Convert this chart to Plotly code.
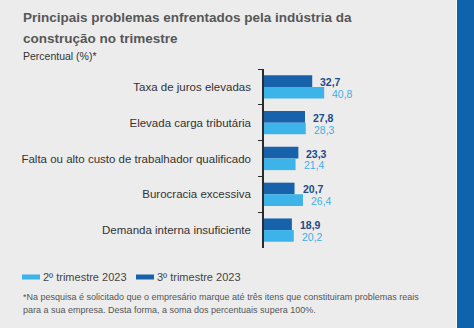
import plotly.graph_objects as go

# Problems faced by the construction industry (percent of respondents)
categorias = [
    "Taxa de juros elevadas",
    "Elevada carga tributária",
    "Falta ou alto custo de trabalhador qualificado",
    "Burocracia excessiva",
    "Demanda interna insuficiente",
]
tri2_2023 = [40.8, 28.3, 21.4, 26.4, 20.2]
tri3_2023 = [32.7, 27.8, 23.3, 20.7, 18.9]
nome_tri2 = "2º trimestre 2023"
nome_tri3 = "3º trimestre 2023"

W, H = 474, 328
L, R, T, B = 264, 30, 69, 80
PW, PH = W - L - R, H - T - B

FONT = "Liberation Sans, Arial, sans-serif"
COR_ESCURA = "#1762ab"
COR_CLARA = "#3cb4ea"
TXT_ESCURO = "#1d4a8a"
TXT_CLARO = "#41aee3"
BG = "#ececec"


def px(x):
    return (x - L) / PW


def py(y):
    return (H - B - y) / PH


fig = go.Figure()
fig.add_trace(go.Bar(y=categorias, x=tri3_2023, orientation="h", name=nome_tri3,
                     marker=dict(color=COR_ESCURA, line=dict(width=0))))
fig.add_trace(go.Bar(y=categorias, x=tri2_2023, orientation="h", name=nome_tri2,
                     marker=dict(color=COR_CLARA, line=dict(width=0))))

# value labels next to each bar
half = PH / len(categorias) * (1 - 0.35) / 4
anns = []
for cat, v3, v2 in zip(categorias, tri3_2023, tri2_2023):
    anns.append(dict(x=v3, y=cat, xref="x", yref="y", text=f"{v3:.1f}".replace(".", ","),
                     showarrow=False, xanchor="left", yanchor="middle", xshift=6, yshift=half - 1,
                     font=dict(family=FONT, size=10.5, color=TXT_ESCURO, weight="bold")))
    anns.append(dict(x=v2, y=cat, xref="x", yref="y", text=f"{v2:.1f}".replace(".", ","),
                     showarrow=False, xanchor="left", yanchor="middle", xshift=6, yshift=-half - 1,
                     font=dict(family=FONT, size=10.5, color=TXT_CLARO)))

# title block
anns.append(dict(x=px(21), y=py(18), xref="paper", yref="paper", xanchor="left", yanchor="middle",
                 text="Principais problemas enfrentados pela indústria da", showarrow=False,
                 font=dict(family=FONT, size=13.5, color="#575757", weight="bold")))
anns.append(dict(x=px(21), y=py(38.5), xref="paper", yref="paper", xanchor="left", yanchor="middle",
                 text="construção no trimestre", showarrow=False,
                 font=dict(family=FONT, size=13.5, color="#575757", weight="bold")))
anns.append(dict(x=px(21), y=py(55.5), xref="paper", yref="paper", xanchor="left", yanchor="middle",
                 text="Percentual (%)*", showarrow=False,
                 font=dict(family=FONT, size=10.5, color="#333333")))

# legend
shapes = []
for x0, cor, nome in [(22, COR_CLARA, nome_tri2), (136, COR_ESCURA, nome_tri3)]:
    shapes.append(dict(type="rect", xref="paper", yref="paper", x0=px(x0), x1=px(x0 + 18),
                       y0=py(274.5), y1=py(279.5), fillcolor=cor, line=dict(width=0)))
    anns.append(dict(x=px(x0 + 19), y=py(277), xref="paper", yref="paper", xanchor="left",
                     yanchor="middle", text=nome, showarrow=False,
                     font=dict(family=FONT, size=11, color="#444444")))

# footnote
notas = [
    "*Na pesquisa é solicitado que o empresário marque até três itens que constituiram problemas reais",
    "para a sua empresa. Desta forma, a soma dos percentuais supera 100%.",
]
for i, linha in enumerate(notas):
    anns.append(dict(x=px(21), y=py(297 + 13 * i), xref="paper", yref="paper", xanchor="left",
                     yanchor="middle", text=linha, showarrow=False,
                     font=dict(family=FONT, size=9, color="#555555")))

# blue edge strip on the right
shapes.append(dict(type="rect", xref="paper", yref="paper", x0=px(457), x1=px(W + 2),
                   y0=py(H + 2), y1=py(-2), fillcolor="#0f63ad", line=dict(width=0), layer="below"))
shapes.append(dict(type="line", xref="paper", yref="paper", x0=px(456.5), x1=px(456.5),
                   y0=py(H + 2), y1=py(-2), line=dict(color="#f7f7f7", width=1), layer="below"))

fig.update_layout(
    width=W, height=H,
    margin=dict(l=L, r=R, t=T, b=B, pad=0, autoexpand=False),
    paper_bgcolor=BG, plot_bgcolor=BG,
    barmode="group", bargap=0.35, bargroupgap=0,
    showlegend=False,
    separators=",.",
    annotations=anns, shapes=shapes,
    xaxis=dict(range=[0, PW / 1.475], visible=False, fixedrange=True, automargin=False),
    yaxis=dict(autorange="reversed", showline=True, linecolor="#2b2b2b", linewidth=1.5,
               ticks="outside", tickson="boundaries", ticklen=4, tickcolor="#2b2b2b",
               tickwidth=1.2, showgrid=False, zeroline=False, ticklabelstandoff=9,
               automargin=False,
               tickfont=dict(family=FONT, size=11.5, color="#333333")),
    font=dict(family=FONT),
)

fig.write_html("out.html")
